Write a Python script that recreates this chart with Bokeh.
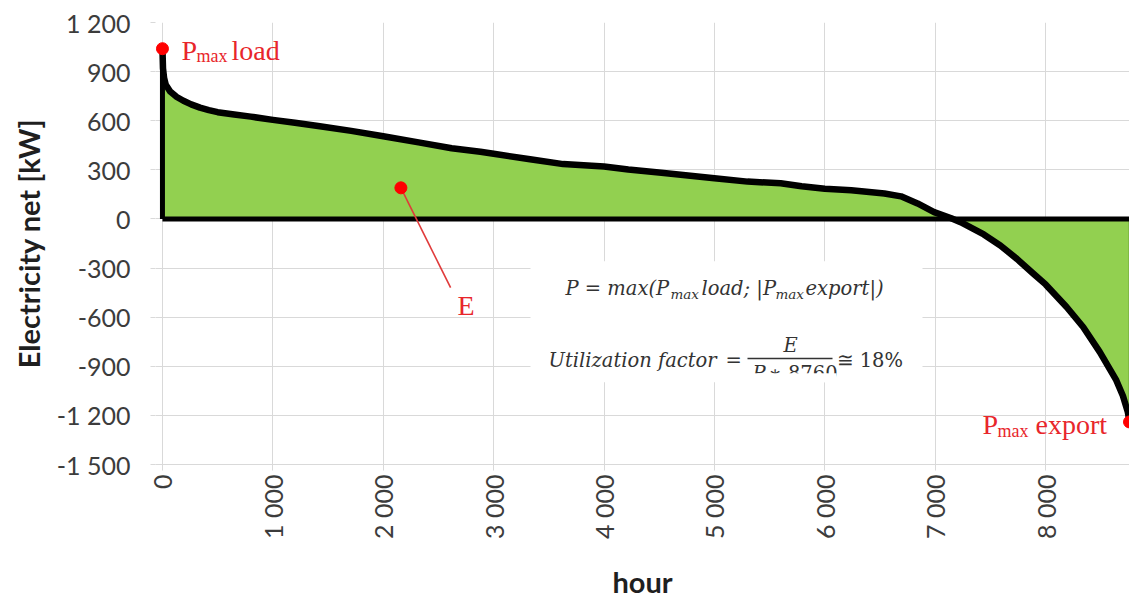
import math
from bokeh.plotting import figure
from bokeh.models import FixedTicker, Label, BoxAnnotation
from bokeh.embed import file_html
from bokeh.resources import INLINE

# ---------------- data ----------------
hours = [0, 5, 15, 30, 70, 130, 190, 260, 340, 420, 500, 650, 800, 1000, 1200,
         1410, 1710, 2000, 2320, 2620, 2880, 3000, 3330, 3630, 4000, 4220, 4520,
         5000, 5300, 5600, 5790, 6000, 6240, 6540, 6690, 6840, 6990, 7140, 7230,
         7440, 7590, 7740, 7890, 8000, 8190, 8340, 8490, 8640, 8700, 8745, 8760]
net_kw = [1040, 920, 860, 820, 778, 745, 722, 700, 680, 665, 652, 638, 625, 605, 588,
          568, 538, 505, 468, 432, 410, 398, 365, 335, 320, 302, 282,
          248, 228, 218, 200, 185, 175, 155, 138, 95, 42, 6, -20,
          -95, -162, -244, -335, -400, -538, -660, -812, -985, -1080, -1180, -1240]

e_marker_hour = [2160]
e_marker_kw = [190]
e_leader_hour = [2160, 2610]
e_leader_kw = [190, -420]

x_ticks = [0, 1000, 2000, 3000, 4000, 5000, 6000, 7000, 8000]
x_tick_labels = ["0", "1 000", "2 000", "3 000", "4 000", "5 000", "6 000", "7 000", "8 000"]
y_ticks = [-1500, -1200, -900, -600, -300, 0, 300, 600, 900, 1200]
y_tick_labels = ["-1 500", "-1 200", "-900", "-600", "-300", "0", "300", "600", "900", "1 200"]

# ---------------- layout constants ----------------
W, H = 1129, 601
FL, FR, FT, FB = 155, 1129, 22, 468
XMIN, XMAX = -63, 8760
YMIN, YMAX = -1500, 1200


def hx(px):
    return XMIN + (px - FL) / (FR - FL) * (XMAX - XMIN)


def vy(py):
    return YMAX - (py - FT) / (FB - FT) * (YMAX - YMIN)


p = figure(width=W, height=H, x_range=(XMIN, XMAX), y_range=(YMIN, YMAX),
           output_backend="svg", toolbar_location=None, title=None)
p.min_border_left = FL
p.min_border_right = 0
p.min_border_top = FT
p.min_border_bottom = H - FB
p.outline_line_color = None
p.background_fill_color = "white"
p.border_fill_color = "white"

xt = FixedTicker(ticks=x_ticks)
yt = FixedTicker(ticks=y_ticks)
p.xaxis.ticker = xt
p.yaxis.ticker = yt
p.xgrid.ticker = xt
p.ygrid.ticker = yt
p.grid.grid_line_color = "#d9d9d9"
p.grid.grid_line_width = 1

p.xaxis.major_label_overrides = dict(zip(x_ticks, x_tick_labels))
p.yaxis.major_label_overrides = dict(zip(y_ticks, y_tick_labels))

for ax in (p.xaxis, p.yaxis):
    ax.major_tick_line_color = "#d9d9d9"
    ax.minor_tick_line_color = None
    ax.major_tick_in = 0
    ax.major_label_text_font = "Lato"
    ax.major_label_text_font_size = "25px"
    ax.major_label_text_color = "#3c3c3c"
    ax.axis_label_text_font = "Lato"
    ax.axis_label_text_font_style = "bold"
    ax.axis_label_text_font_size = "29px"
    ax.axis_label_text_color = "#1f1f1f"

p.yaxis.axis_line_color = None
p.yaxis.major_tick_out = 5
p.yaxis.major_label_standoff = 20
p.yaxis.axis_label = "Electricity net [kW]"
p.yaxis.axis_label_standoff = 8

p.xaxis.axis_line_color = "#d9d9d9"
p.xaxis.major_tick_out = 6
p.xaxis.major_label_standoff = 4
p.xaxis.major_label_orientation = math.pi / 2
p.xaxis.axis_label = "hour"
p.xaxis.axis_label_standoff = 22

# ---------------- glyphs ----------------
p.varea(x=hours, y1=0, y2=net_kw, fill_color="#92D050", fill_alpha=1)
p.segment(x0=[hours[-1]], y0=[0], x1=[hours[-1]], y1=[net_kw[-1]],
          line_color="#4d7a26", line_width=1.5)
p.line([hours[0], hours[-1]], [0, 0], line_color="black", line_width=5)
p.segment(x0=[hours[0]], y0=[0], x1=[hours[0]], y1=[net_kw[0]],
          line_color="black", line_width=5)
p.line(hours, net_kw, line_color="black", line_width=6.5, line_join="round")

p.line(e_leader_hour, e_leader_kw, line_color="#e03a3a", line_width=1.6)

i_max = net_kw.index(max(net_kw))
i_min = net_kw.index(min(net_kw))
p.scatter(x=[hours[i_max], hours[i_min]] + e_marker_hour,
          y=[net_kw[i_max], net_kw[i_min]] + e_marker_kw,
          size=12, fill_color="#ff0000", line_color="#ff0000")

# ---------------- annotations ----------------
red = "#e8262b"
serif = "Liberation Serif"
math_font = "DejaVu Serif"
gray = "#333333"


def lab(text, px, py, font, size, color, style="normal", align="left"):
    p.add_layout(Label(x=hx(px), y=vy(py), text=text, text_font=font,
                       text_font_size=size, text_color=color,
                       text_font_style=style, text_align=align,
                       text_baseline="alphabetic"))


lab("P", 181, 50, serif, "28px", red)
lab("max", 196, 56, serif, "18px", red)
lab("load", 231, 50, serif, "28px", red)

lab("P", 982, 428, serif, "28px", red)
lab("max", 997, 434, serif, "18px", red)
lab("export", 1035, 428, serif, "28px", red)

lab("E", 457, 308, serif, "28px", red)

# formula box
p.add_layout(BoxAnnotation(left=hx(530), right=hx(922), top=vy(263), bottom=vy(385),
                           fill_color="white", fill_alpha=1, line_color=None))

fs, fsub = "19.5px", "13.5px"
lab("P = max(P", 565, 290, math_font, fs, gray, "italic")
lab("max", 670, 296, math_font, fsub, gray, "italic")
lab("load; |P", 701, 290, math_font, fs, gray, "italic")
lab("max", 775, 296, math_font, fsub, gray, "italic")
lab("export|)", 805, 290, math_font, fs, gray, "italic")

lab("Utilization factor", 548, 363, math_font, fs, gray, "italic")
lab("=", 725, 363, math_font, fs, gray)
lab("E", 790, 348, math_font, fs, gray, "italic", "center")
p.add_layout(BoxAnnotation(left=hx(747), right=hx(832), top=vy(360.3), bottom=vy(361.8),
                           fill_color=gray, fill_alpha=1, line_color=None))
lab("P", 752, 376, math_font, fs, gray, "italic")
lab("\u2217 8760", 768, 376, math_font, fs, gray)
p.add_layout(BoxAnnotation(left=hx(745), right=hx(836), top=vy(376), bottom=vy(385),
                           fill_color="white", fill_alpha=1, line_color=None))
lab("\u2245 18%", 836, 363, math_font, fs, gray)

open("out.html", "w").write(file_html(p, INLINE))
